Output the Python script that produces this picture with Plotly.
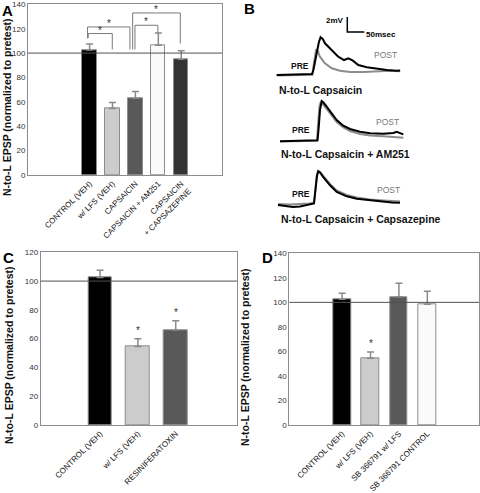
import plotly.graph_objects as go

W, H = 480, 493

# ---------------- DATA ----------------
A_labels = ["CONTROL (VEH)", "w/ LFS (VEH)", "CAPSAICIN", "CAPSAICIN + AM251", "CAPSAICIN<br>+ CAPSAZEPINE"]
A_values = [102.5, 54.5, 63.0, 106.5, 95.0]
A_errors = [5.0, 5.0, 5.5, 10.0, 7.0]
A_colors = ["#000000", "#cccccc", "#595959", "#fafafa", "#333333"]
# significance brackets: (left pos, right pos, top height, left end, right end)
A_brackets = [(-0.06, 0.99, 116.0, 112.5, 103.0),
              (-0.09, 1.76, 121.4, 112.0, 103.0),
              (1.88, 3.96, 132.9, 103.0, 107.8),
              (1.98, 2.98, 122.8, 103.0, 116.5)]

C_labels = ["CONTROL (VEH)", "w/ LFS (VEH)", "RESINIFERATOXIN"]
C_values = [102.5, 54.5, 66.0]
C_errors = [5.0, 5.5, 6.5]
C_colors = ["#000000", "#cccccc", "#595959"]
C_sig = [False, True, True]

D_labels = ["CONTROL (VEH)", "w/ LFS (VEH)", "SB 366791 w/ LFS", "SB 366791 CONTROL"]
D_values = [102.5, 54.5, 104.5, 98.5]
D_errors = [5.0, 5.0, 11.0, 10.5]
D_colors = ["#000000", "#cccccc", "#595959", "#fafafa"]
D_sig = [False, True, False, False]

# EPSP sweeps (time ms, potential mV relative to baseline)
S1_pre_t = [0, 39, 77, 104, 108, 116, 124, 129, 136, 142, 162, 181, 198, 211, 224, 240, 265, 294, 324, 353, 363]
S1_pre_v = [-0.07, 0, 0.03, 0.07, 0.6, 2.6, 4.3, 4.96, 4.7, 4.16, 3.17, 2.37, 1.93, 2.16, 1.84, 1.27, 0.96, 0.77, 0.6, 0.5, 0.53]
S1_post_t = [0, 77, 105, 110, 116, 121, 127, 142, 162, 186, 216, 255, 294, 333, 363]
S1_post_v = [-0.13, -0.07, -0.04, 1.67, 3.36, 3.13, 2.37, 1.49, 0.83, 0.5, 0.33, 0.33, 0.43, 0.5, 0.43]

S2_pre_t = [9.7, 54, 98, 120, 123, 127.4, 132.4, 137.6, 147, 161.8, 176.5, 195.9, 215.6, 245, 274.4, 313.5, 343, 353, 372.4]
S2_pre_v = [-0.08, -0.04, 0.03, 0.05, 1.43, 4.09, 5.29, 5.09, 4.53, 3.65, 2.76, 2.0, 1.56, 1.2, 0.99, 0.93, 1.03, 1.2, 0.85]
S2_post_t = [9.7, 98, 118.5, 121.5, 125.9, 129.4, 136.2, 147, 161.8, 176.5, 195.9, 215.6, 245, 274.4, 313.5, 343, 372.4]
S2_post_v = [-0.1, -0.04, -0.01, 2.09, 4.63, 5.12, 4.83, 4.23, 3.29, 2.49, 1.76, 1.29, 0.89, 0.69, 0.59, 0.49, 0.4]

S3_pre_t = [3.8, 24.4, 48, 68.5, 92, 109.7, 114, 118.5, 122.4, 127.4, 137, 156.8, 176.5, 205.9, 235.3, 274.4, 313.5, 339, 362.6]
S3_pre_v = [-0.04, -0.17, -0.31, -0.24, 0.03, 0.16, 1.96, 3.83, 4.45, 4.29, 3.69, 2.59, 1.69, 1.12, 0.8, 0.59, 0.45, 0.29, 0.27]
S3_post_t = [3.8, 39, 68.5, 98, 109.7, 113, 118, 121.5, 127.4, 137, 156.8, 176.5, 205.9, 235.3, 274.4, 313.5, 362.6]
S3_post_v = [0.09, 0.03, 0.09, 0.16, 0.29, 1.96, 3.96, 4.49, 4.36, 3.83, 2.76, 1.89, 1.29, 0.96, 0.69, 0.56, 0.43]

B_titles = ["N-to-L Capsaicin", "N-to-L Capsaicin + AM251", "N-to-L Capsaicin + Capsazepine"]
SCALE_MV, SCALE_MS = 2, 50

# ---------------- helpers ----------------
FONT = "Liberation Sans, Arial, sans-serif"


def px(x):
    return x / W


def py(y):
    return 1 - y / H


fig = go.Figure()
annotations = []
shapes = []


def text_at(x, y, text, size, color="#111", xanchor="center", angle=0):
    annotations.append(dict(x=px(x), y=py(y), xref="paper", yref="paper", text=text,
                            showarrow=False, xanchor=xanchor, yanchor="middle", textangle=angle,
                            font=dict(size=size, color=color, family=FONT)))


def bar_panel(idx, labels, values, errors, colors, xdom, ydom, xrange, ymax):
    xa = "x" if idx == 1 else f"x{idx}"
    ya = "y" if idx == 1 else f"y{idx}"
    pos = list(range(len(values)))
    fig.add_trace(go.Bar(
        x=pos, y=values, width=0.625, xaxis=xa, yaxis=ya,
        marker=dict(color=colors, line=dict(color="#8c8c8c", width=1)),
        error_y=dict(type="data", array=errors, arrayminus=[0] * len(errors), symmetric=False,
                     color="#8a8a8a", thickness=1.5, width=3.5),
        showlegend=False, hoverinfo="skip"))
    key = "" if idx == 1 else str(idx)
    fig.layout["xaxis" + key] = dict(
        domain=[px(xdom[0]), px(xdom[1])], range=xrange, anchor=ya,
        tickvals=pos, ticktext=labels, tickangle=-45,
        tickfont=dict(size=8, color="#111111", family=FONT),
        showline=True, mirror=True, linecolor="#8c8c8c", linewidth=1,
        showgrid=False, zeroline=False, ticks="", fixedrange=True, automargin=False)
    fig.layout["yaxis" + key] = dict(
        domain=[py(ydom[1]), py(ydom[0])], range=[0, ymax], anchor=xa,
        tickvals=list(range(0, ymax + 1, 20)),
        tickfont=dict(size=8, color="#333333", family=FONT),
        showline=True, mirror=True, linecolor="#8c8c8c", linewidth=1,
        showgrid=False, zeroline=False, ticks="", fixedrange=True, automargin=False)
    shapes.append(dict(type="line", xref=xa + " domain", yref=ya, x0=0, x1=1, y0=100, y1=100,
                       line=dict(color="#505050", width=1)))
    return xa, ya


def star(xa, ya, x, y, shift):
    annotations.append(dict(x=x, y=y, xref=xa, yref=ya, text="*", showarrow=False,
                            xanchor="center", yanchor="bottom", yshift=shift,
                            font=dict(size=10, color="#333333", family=FONT)))


# Panel A
xa, ya = bar_panel(1, A_labels, A_values, A_errors, A_colors, (28, 222), (4.3, 175), [-2.69, 5.78], 140)
for (l, r, top, le, re_) in A_brackets:
    shapes.append(dict(type="path", xref=xa, yref=ya,
                       path=f"M {l},{le} L {l},{top} L {r},{top} L {r},{re_}",
                       line=dict(color="#7a7a7a", width=1)))
    star(xa, ya, (l + r) / 2, top, -4)

# Panel C
xc, yc = bar_panel(2, C_labels, C_values, C_errors, C_colors, (40.7, 237), (252.3, 425), [-1.57, 3.62], 120)
for i, s in enumerate(C_sig):
    if s:
        star(xc, yc, i, C_values[i] + C_errors[i], 1)

# Panel D
xd, yd = bar_panel(3, D_labels, D_values, D_errors, D_colors, (289.3, 479), (253.3, 425), [-1.86, 4.82], 140)
for i, s in enumerate(D_sig):
    if s:
        star(xd, yd, i, D_values[i] + D_errors[i], 1)

# y-axis titles
for (x, y) in [(7, 107), (9, 355), (245, 357)]:
    text_at(x, y, "<b>N-to-L EPSP (normalized to pretest)</b>", 10.5, angle=-90)

# panel letters
for (t, x, y) in [("A", 7, 11), ("B", 249.5, 9), ("C", 8.5, 257.5), ("D", 267, 257.5)]:
    text_at(x, y, f"<b>{t}</b>", 15, color="#000000")

# Panel B sweeps
PX_PER_MS = 0.34
PX_PER_MV = 7.5
T0_PX = 276.7
B_X = (268, 410)
t_lo = (B_X[0] - T0_PX) / PX_PER_MS
t_hi = (B_X[1] - T0_PX) / PX_PER_MS
sweeps = [(S1_pre_t, S1_pre_v, S1_post_t, S1_post_v, 74.5, (12, 82)),
          (S2_pre_t, S2_pre_v, S2_post_t, S2_post_v, 140.7, (95, 150)),
          (S3_pre_t, S3_pre_v, S3_post_t, S3_post_v, 204.7, (160, 215))]
for k, (pt, pv, qt, qv, base, dom) in enumerate(sweeps):
    n = 4 + k
    xa_b, ya_b = f"x{n}", f"y{n}"
    fig.add_trace(go.Scatter(x=qt, y=qv, xaxis=xa_b, yaxis=ya_b, mode="lines",
                             line=dict(color="#8c8c8c", width=2), showlegend=False, hoverinfo="skip"))
    fig.add_trace(go.Scatter(x=pt, y=pv, xaxis=xa_b, yaxis=ya_b, mode="lines",
                             line=dict(color="#000000", width=2), showlegend=False, hoverinfo="skip"))
    fig.layout[f"xaxis{n}"] = dict(domain=[px(B_X[0]), px(B_X[1])], range=[t_lo, t_hi], anchor=ya_b,
                                   visible=False, fixedrange=True)
    fig.layout[f"yaxis{n}"] = dict(domain=[py(dom[1]), py(dom[0])],
                                   range=[(base - dom[1]) / PX_PER_MV, (base - dom[0]) / PX_PER_MV],
                                   anchor=xa_b, visible=False, fixedrange=True)

# scale bar (in sweep-1 units)
sb_t = (347.3 - T0_PX) / PX_PER_MS
sb_v = (74.5 - 32) / PX_PER_MV
shapes.append(dict(type="path", xref="x4", yref="y4",
                   path=f"M {sb_t},{sb_v + SCALE_MV} L {sb_t},{sb_v} L {sb_t + SCALE_MS},{sb_v}",
                   line=dict(color="#000000", width=1.5)))
text_at(346, 20, f"<b>{SCALE_MV}mV</b>", 8, color="#000000", xanchor="right")
text_at(364, 34, f"<b>{SCALE_MS}msec</b>", 8, color="#000000", xanchor="left")

for (x, y) in [(289, 66), (289.5, 130), (290, 194)]:
    text_at(x, y, "<b>PRE</b>", 8.5, xanchor="left")
for (x, y) in [(372, 55), (374, 122), (375, 190)]:
    text_at(x, y, "POST", 8.5, color="#777777", xanchor="left")
for (t, x, y) in zip(B_titles, [277, 279, 279], [90, 154, 219]):
    text_at(x, y, f"<b>{t}</b>", 10.5, xanchor="left")

fig.update_layout(template="none", width=W, height=H, margin=dict(l=0, r=0, t=0, b=0, pad=0),
                  paper_bgcolor="white", plot_bgcolor="white",
                  annotations=annotations, shapes=shapes, bargap=0, showlegend=False)
fig.write_html("out.html", config={"displayModeBar": False},
               post_script="document.body.style.margin='0';document.body.style.overflow='hidden';")
